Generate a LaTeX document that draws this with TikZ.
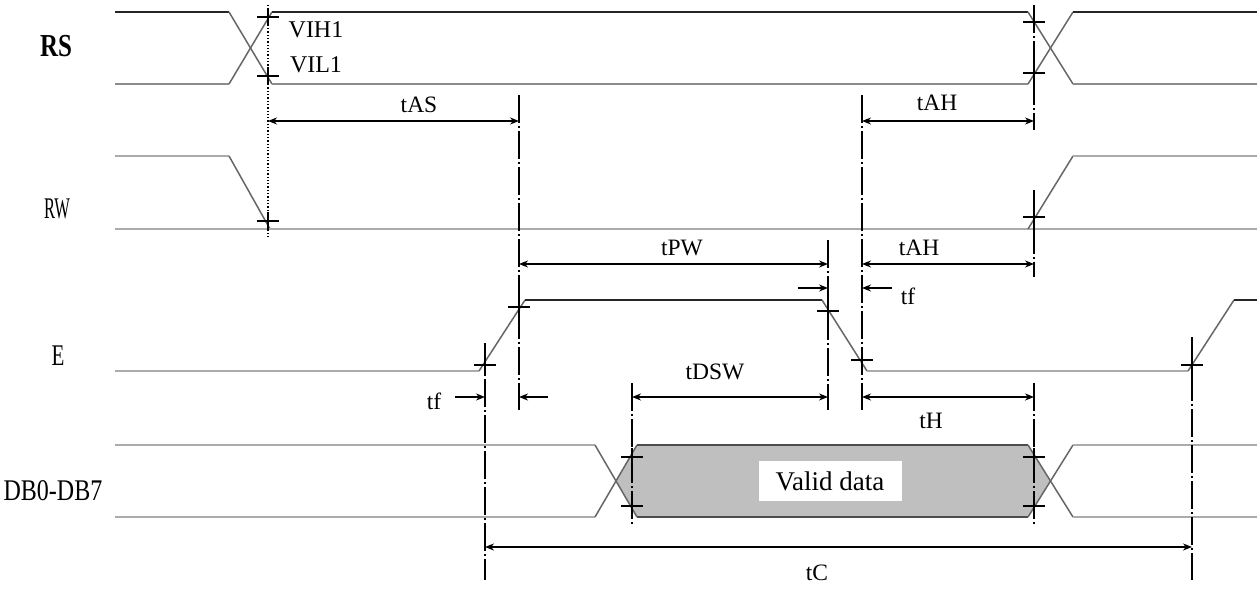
\documentclass[tikz,border=0pt]{standalone}
\usepackage{fontspec}
\setmainfont{Liberation Serif}
\usetikzlibrary{arrows.meta}
\begin{document}
\begin{tikzpicture}[x=1pt,y=-1pt,
  hi/.style={draw=black!85,line width=2pt},
  lo/.style={draw=black!45,line width=2.2pt},
  lolight/.style={draw=black!33,line width=2.4pt},
  trans/.style={draw=black!60,line width=1.5pt},
  vdash/.style={draw=black,line width=1.5pt,dash pattern=on 28pt off 3pt on 2pt off 3pt},
  dim/.style={draw=black,line width=1.5pt,{Stealth[length=9pt,width=7pt]}-{Stealth[length=9pt,width=7pt]}},
  sarrow/.style={draw=black,line width=1.5pt,-{Stealth[length=9pt,width=7pt]}},
  tickmark/.style={draw=black,line width=1.5pt},
  lbl/.style={inner sep=0pt,font=\fontsize{23.5}{25}\selectfont},
  sig/.style={inner sep=0pt,font=\fontsize{30}{32}\selectfont}]
\useasboundingbox (0,0) rectangle (1259,591);

% ---------- RS ----------
\draw[hi] (115,12) -- (229,12);
\draw[lo] (115,84) -- (229,84);
\draw[trans] (229,12) -- (272,84);
\draw[trans] (229,84) -- (272,12);
\draw[hi] (272,12) -- (1028,12);
\draw[lo] (272,84) -- (1028,84);
\draw[trans] (1028,12) -- (1073,84);
\draw[trans] (1028,84) -- (1073,12);
\draw[hi] (1073,12) -- (1257,12);
\draw[lo] (1073,84) -- (1257,84);

% ---------- RW ----------
\draw[lolight] (115,156) -- (229,156);
\draw[trans] (229,156) -- (270,229);
\draw[lolight] (115,229) -- (1257,229);
\draw[trans] (1028,229) -- (1073,156);
\draw[lolight] (1073,156) -- (1257,156);

% ---------- E ----------
\draw[lolight] (115,371) -- (479,371);
\draw[trans] (479,371) -- (525,300);
\draw[hi] (525,300) -- (822,300);
\draw[trans] (822,300) -- (867,371);
\draw[lolight] (867,371) -- (1188,371);
\draw[trans] (1188,371) -- (1234,300);
\draw[hi] (1234,300) -- (1257,300);

% ---------- DB0-DB7 ----------
\fill[black!25] (616,481) -- (637,445) -- (1028,445) -- (1050,481) -- (1028,517) -- (637,517) -- cycle;
\draw[lolight] (115,445) -- (595,445);
\draw[lolight] (115,517) -- (595,517);
\draw[trans] (595,445) -- (637,517);
\draw[trans] (595,517) -- (637,445);
\draw[draw=black!70,line width=2.2pt] (637,445) -- (1028,445);
\draw[draw=black!70,line width=2.2pt] (637,517) -- (1028,517);
\draw[trans] (1028,445) -- (1073,517);
\draw[trans] (1028,517) -- (1073,445);
\draw[lolight] (1073,445) -- (1257,445);
\draw[lolight] (1073,517) -- (1257,517);
\node[fill=white,minimum width=143pt,minimum height=40pt,inner sep=0pt,
      font=\fontsize{27}{29}\selectfont] (valid) at (830,481) {Valid data};

% ---------- vertical reference lines ----------
\draw[draw=black,line width=1.3pt,dotted] (268,5) -- (268,237);
\draw[vdash] (519,95) -- (519,410);
\draw[vdash] (862,95) -- (862,410);
\draw[vdash] (1034,5) -- (1034,130);
\draw[vdash] (1034,190) -- (1034,277);
\draw[vdash] (1034,383) -- (1034,525);
\draw[vdash] (828,240) -- (828,410);
\draw[vdash] (485,343) -- (485,580);
\draw[vdash] (632,383) -- (632,525);
\draw[vdash] (1192,337) -- (1192,580);

% ---------- tick marks ----------
\foreach \x/\y in {268/17,268/76,268/221,1034/22,1034/73,1034/217,
                   485/365,519/307,828/311,862/360,1192/365,
                   632/457,632/506,1034/457,1034/506}
  \draw[tickmark] (\x-11,\y) -- (\x+11,\y) (\x,\y-9) -- (\x,\y+9);

% ---------- dimension arrows ----------
\coordinate (asL) at (268,121); \coordinate (asR) at (519,121);
\draw[dim] (asL) -- (asR);
\node[lbl] (tAS) at (419,105) {tAS};

\coordinate (ah1L) at (862,121); \coordinate (ah1R) at (1034,121);
\draw[dim] (ah1L) -- (ah1R);
\node[lbl] (tAH1) at (937,103) {tAH};

\coordinate (pwL) at (519,264); \coordinate (pwR) at (828,264);
\draw[dim] (pwL) -- (pwR);
\node[lbl] (tPW) at (682,248) {tPW};

\coordinate (ah2L) at (862,264); \coordinate (ah2R) at (1034,264);
\draw[dim] (ah2L) -- (ah2R);
\node[lbl] (tAH2) at (919,248) {tAH};

\coordinate (f1a) at (798,288); \coordinate (f1b) at (828,288);
\draw[sarrow] (f1a) -- (f1b);
\coordinate (f2a) at (892,288); \coordinate (f2b) at (862,288);
\draw[sarrow] (f2a) -- (f2b);
\node[lbl] (tf1) at (908,296) {tf};

\coordinate (f3a) at (455,397); \coordinate (f3b) at (485,397);
\draw[sarrow] (f3a) -- (f3b);
\node[lbl] (tf2) at (434,401) {tf};
\coordinate (f4a) at (548,397); \coordinate (f4b) at (519,397);
\draw[sarrow] (f4a) -- (f4b);

\coordinate (dswL) at (632,397); \coordinate (dswR) at (828,397);
\draw[dim] (dswL) -- (dswR);
\node[lbl] (tDSW) at (715,372) {tDSW};

\coordinate (hL) at (862,397); \coordinate (hR) at (1034,397);
\draw[dim] (hL) -- (hR);
\node[lbl] (tH) at (931,421) {tH};

\coordinate (cL) at (485,547); \coordinate (cR) at (1192,547);
\draw[dim] (cL) -- (cR);
\node[lbl] (tC) at (817,573) {tC};

% ---------- level labels ----------
\node[inner sep=0pt,font=\fontsize{24}{26}\selectfont] (vih) at (316,30) {VIH1};
\node[inner sep=0pt,font=\fontsize{24}{26}\selectfont] (vil) at (316,65) {VIL1};

% ---------- signal names ----------
\node[sig] (RS) at (56,46) {\scalebox{0.78}[1]{\fontsize{32}{34}\selectfont\bfseries RS}};
\node[sig] (RW) at (57,209) {\scalebox{0.55}[1]{RW}};
\node[sig] (E) at (58,356) {\scalebox{0.7}[1]{E}};
\node[sig] (DB) at (53,491) {\scalebox{0.8}[1]{DB0-DB7}};
\end{tikzpicture}
\end{document}
